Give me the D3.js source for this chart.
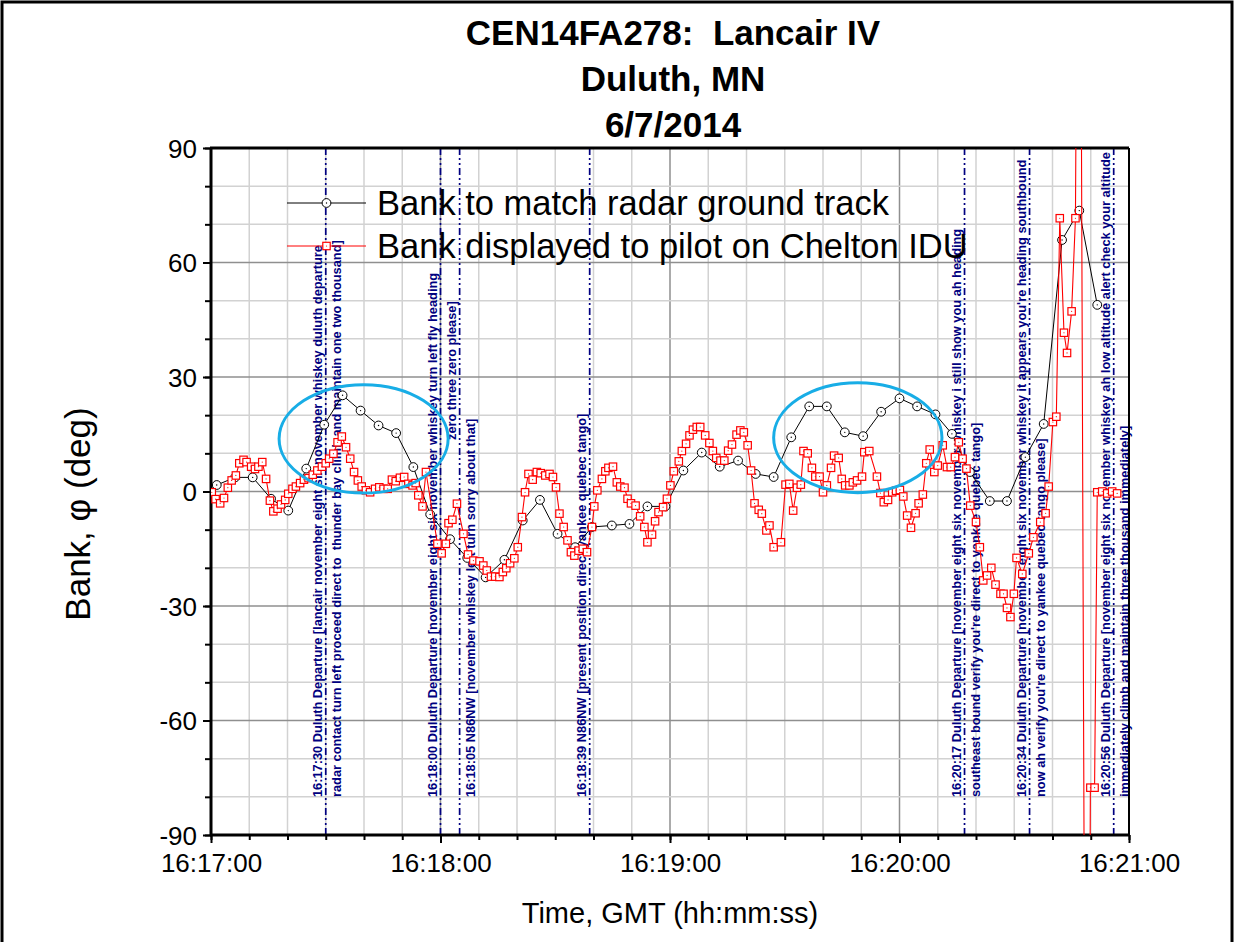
<!DOCTYPE html>
<html>
<head>
<meta charset="utf-8">
<script src="https://cdn.jsdelivr.net/npm/d3@7"></script>
<style>
    body { margin: 0; background: #fff; }
    svg { display: block; font-family: Arial, "Liberation Sans", sans-serif; }
</style>
</head>
<body>
<svg id="chart" width="1235" height="942"></svg>
<script>
const titleLines = ["CEN14FA278:  Lancair IV", "Duluth, MN", "6/7/2014"];
const xLabel = "Time, GMT (hh:mm:ss)";
const yLabel = "Bank, \u03c6 (deg)";
const seriesNames = ["Bank to match radar ground track", "Bank displayed to pilot on Chelton IDU"];

// time ticks, seconds after 16:17:00
const xMajorTicks = [0, 60, 120, 180, 240];
const xTickLabels = ["16:17:00", "16:18:00", "16:19:00", "16:20:00", "16:21:00"];
const yTicks = [-90, -60, -30, 0, 30, 60, 90];

// radar derived bank (black circles)
const radarSec = [1.5, 6.3, 10.9, 15.7, 20.2, 24.9, 29.6, 34.4, 39.1, 43.8,
    48.4, 52.9, 57.3, 62.5, 67, 71.8, 76.7, 81.5, 86, 90.6,
    95.2, 99.6, 104.8, 109.4, 114.1, 118.8, 123.5, 128.3, 133, 137.8,
    142.4, 147.1, 151.7, 156.4, 161, 165.7, 170.5, 175.2, 180, 184.6,
    189.4, 193.7, 198.4, 203.6, 208.1, 212.9, 217.7, 222.5, 227, 231.7];
const radarBank = [1.7, 3.7, 3.7, -1.9, -5, 6, 17.5, 25.2, 21.2, 17.3,
    15.3, 6.4, -6, -12.5, -17.4, -22.5, -17.9, -7.6, -2.2, -11.1,
    -14.6, -9.3, -8.9, -8.5, -3.9, -3.9, 5.5, 10.2, 6.5, 8.1,
    4.6, 3.8, 14.2, 22.3, 22.3, 15.5, 14.5, 20.9, 24.4, 22.3,
    20.2, 15.1, 5.1, -2.5, -2.5, 9, 17.7, 65.9, 73.6, 48.9];

// IDU displayed bank (red squares)
const iduSec = [0.2, 1.2, 2.4, 3.4, 4.4, 5.4, 6.5, 7.4, 8.5, 9.3,
    10.5, 11.5, 12.4, 13.4, 14.4, 15.4, 16.3, 17.4, 18.3, 19.4,
    20.2, 21.3, 22.2, 23.3, 24.3, 25.5, 26.6, 27.8, 29, 30,
    30.9, 32, 33.1, 34.2, 35.3, 36.4, 37.4, 38.4, 39.4, 40.5,
    41.6, 42.9, 44, 45.1, 46.2, 47.3, 48.3, 49.4, 50.5, 51.6,
    52.7, 53.5, 54.2, 55.3, 56.2, 59.2, 60.3, 61.4, 62.1, 63.1,
    64.3, 66, 67.2, 68.6, 70.2, 71.2, 72.1, 73.2, 74.3, 75.4,
    76.3, 77.2, 78.2, 79.3, 80.2, 81.3, 82.1, 83, 84.1, 85.2,
    86.2, 87.4, 88.5, 89.4, 90.2, 91.1, 92.2, 93.2, 94.1, 95,
    96.1, 97.2, 98.3, 99.6, 100.2, 101, 102.2, 103.1, 103.9, 105.1,
    106.1, 107, 108.1, 108.9, 109.8, 111, 112.2, 113.3, 114.1, 115.3,
    116.1, 117, 118.2, 119.2, 120.1, 121, 122.3, 123.1, 124.2, 125.1,
    126, 127, 127.9, 129.2, 130.3, 131.2, 132.1, 133.2, 134.2, 135.2,
    136.2, 137.4, 138.4, 139.3, 140.3, 141.2, 142.1, 143.2, 144, 145.2,
    146, 147.1, 149, 150.2, 151.2, 152.2, 153.2, 154.2, 154.9, 156,
    157.1, 158, 159.1, 160, 161, 162.1, 162.9, 164.1, 164.9, 165.8,
    166.9, 167.8, 168.9, 170.2, 170.8, 172.1, 174.1, 175, 175.9, 177,
    178.1, 179.1, 180.1, 181, 182, 183, 184.2, 185, 186.1, 187,
    187.9, 189.1, 190, 191.3, 192.4, 193.4, 194.5, 195.5, 196.5, 197.5,
    198.5, 200, 201, 201.9, 202.9, 204, 205.1, 206.4, 207.2, 208.1,
    209, 209.9, 210.6, 212.1, 213.8, 215, 216.8, 218.2, 219, 220.1,
    221, 221.9, 223, 223.8, 225, 226, 227, 229, 229.9, 231,
    231.7, 233, 234.3, 235.6, 236.9];
const iduBank = [-0.2, -2, -3.1, -1.7, 1, 2.9, 4.2, 7.4, 8.3, 7.7,
    6.5, 5.9, 6.5, 7.7, 3.3, -2.4, -5.2, -4.5, -3.4, -2.2,
    -0.6, 0.7, 1.3, 2.2, 3.1, 3.5, 4.4, 5.5, 6.5, 7.4,
    8.6, 9.9, 12.9, 14.4, 11.6, 8.6, 5.1, 2.9, 1.3, 0.3,
    -0.2, 0.7, 1.1, 0.7, 0.7, 3.1, 2.7, 3.6, 3.8, 2,
    1.6, 2.2, -1, -3.9, 5.1, -13.7, -16.2, -13.7, -8.3, -7.4,
    -3.2, -11.1, -16.5, -18.1, -18.3, -19.4, -20.7, -22.3, -22.3, -22.4,
    -21.1, -20.1, -18.8, -17.5, -14.6, -6.7, -0.2, 4.6, 3.1, 5.1,
    4.8, 4.2, 4.6, 3.8, 1.1, -5.8, -9.3, -12.8, -15.9, -16.8,
    -15.5, -15, -15.9, -9.3, -3.9, 0.3, 3.3, 5.3, 6.2, 6.5,
    2.4, 1.3, 1, -1.9, -3.1, -3.7, -6.5, -9.3, -13.3, -11.3,
    -7.8, -5.4, -4.1, -1.9, 1.6, 5.3, 7.9, 10.6, 12.5, 14.7,
    16.2, 16.9, 16.9, 14.7, 12.7, 10.6, 8.8, 8.1, 8.1, 10.7,
    12.3, 14.9, 16, 15.5, 12.1, 5.5, -3.1, -4.8, -5.8, -10.2,
    -8.9, -14.6, -13.3, 1.8, 2, -5, 1, 1.8, 10.6, 10,
    6.2, 3.9, 3.9, -0.2, 1.6, 6.2, 9.4, 8.8, 3.3, 1.6,
    1.6, 2.4, 2.9, 3.9, 10.3, 10.6, 3.9, -0.4, -2.8, -2.2,
    -0.2, 0.2, 0.4, -1.3, -6.3, -9.5, -5.7, -3.1, -0.8, 7.4,
    11, 5.1, 6.8, 12.1, 6.4, 6.4, 9, 12.9, 8.6, 6,
    -3.7, -8, -14.6, -23.3, -22, -20, -24.4, -26.8, -26.8, -30.5,
    -32.9, -26.8, -17.4, -21.6, -16.2, -12, -8, -5.7, 1.3, 18.2,
    19.6, 71.6, 41.6, 36.3, 47.2, 71.6, 250, -300, -77.6, -77.6,
    -0.2, 0, -0.5, 0, -0.5];

// ATC transmissions: time (s after 16:17:00) and two text lines
const callSec = [30, 60, 65, 99, 197, 214, 236];
const callText = [
    ["16:17:30 Duluth Departure [lancair november eight six november whiskey duluth departure",
     "radar contact turn left proceed direct to  thunder bay climb and maintain one two thousand]"],
    ["16:18:00 Duluth Departure [november eight six november whiskey turn left fly heading",
     "zero three zero please]"],
    ["",
     "16:18:05 N86NW [november whiskey left turn sorry about that]"],
    ["16:18:39 N86NW [present position direct yankee quebec tango]",
     ""],
    ["16:20:17 Duluth Departure [november eight six november whiskey i still show you ah heading",
     "southeast bound verify you're direct to yankee quebec tango]"],
    ["16:20:34 Duluth Departure [november eight six november whiskey it appears you're heading southbound",
     "now ah verify you're direct to yankee quebec tango please]"],
    ["16:20:56 Duluth Departure [november eight six november whiskey ah low altitude alert check your altitude",
     "immediately climb and maintain three thousand immediately]"]
];

// highlighted regions: centre time, centre bank, half width (s), half height (deg)
const ringSec = [39.9, 169.1];
const ringBank = [13.8, 14.1];
const ringHalfSec = [22.1, 22];
const ringHalfBank = [14.2, 14.4];

const svg = d3.select("#chart");
const plotLeft = 211, plotRight = 1129, plotTop = 148, plotBottom = 835;

let x = d3.scaleLinear().domain([0, 240]).range([plotLeft, plotRight]);
let y = d3.scaleLinear().domain([-90, 90]).range([plotBottom, plotTop]);

// outer frame
svg.append("rect")
    .attr("x", 2).attr("y", 2)
    .attr("width", 1230).attr("height", 960)
    .attr("fill", "none")
    .attr("stroke", "black")
    .attr("stroke-width", 3);

// title
svg.append("g")
    .selectAll("text")
    .data(titleLines)
    .enter().append("text")
    .attr("x", 673)
    .attr("y", (d, i) => 45 + i * 46)
    .attr("text-anchor", "middle")
    .attr("font-size", 35)
    .attr("font-weight", "bold")
    .style("white-space", "pre")
    .text(d => d);

// grid
let grid = svg.append("g").attr("class", "grid");
grid.selectAll("line.vx")
    .data(d3.range(0, 241, 10))
    .enter().append("line")
    .attr("x1", d => x(d)).attr("x2", d => x(d))
    .attr("y1", plotTop).attr("y2", plotBottom)
    .attr("stroke", d => d % 60 === 0 ? "#8f8f8f" : "#d2d2d2")
    .attr("stroke-width", 1.5);
grid.selectAll("line.hy")
    .data(d3.range(-90, 91, 10))
    .enter().append("line")
    .attr("x1", plotLeft).attr("x2", plotRight)
    .attr("y1", d => y(d)).attr("y2", d => y(d))
    .attr("stroke", d => d % 30 === 0 ? "#8f8f8f" : "#d2d2d2")
    .attr("stroke-width", 1.5);

// ATC call lines and text
let calls = svg.append("g").attr("class", "calls");
callSec.forEach((t, i) => {
    let cx = x(t);
    calls.append("line")
        .attr("x1", cx).attr("x2", cx)
        .attr("y1", plotTop).attr("y2", plotBottom)
        .attr("stroke", "#000080")
        .attr("stroke-width", 1.7)
        .attr("stroke-dasharray", "7,3,2,3,2,3");
    callText[i].forEach((txt, j) => {
        if (!txt) return;
        let tx = cx + (j === 0 ? -3.5 : 15);
        let ty = 797 - (i === 1 && j === 1 ? 357 : 0);
        calls.append("text")
            .attr("x", tx).attr("y", ty)
            .attr("transform", `rotate(-90,${tx},${ty})`)
            .attr("fill", "#000080")
            .attr("font-size", 12.8)
            .attr("font-weight", "bold")
            .style("white-space", "pre")
            .text(txt);
    });
});

// axes
let yAxis = d3.axisLeft(y).tickValues(yTicks).tickSize(8).tickPadding(6)
    .tickFormat(d => String(d));
let yMinor = d3.axisLeft(y).tickValues(d3.range(-90, 91, 10)).tickSize(6).tickFormat("");
let xAxis = d3.axisBottom(x).tickValues(xMajorTicks).tickSize(8).tickPadding(11)
    .tickFormat((d, i) => xTickLabels[i]);
let xMinor = d3.axisBottom(x).tickValues(d3.range(0, 241, 10)).tickSize(5).tickFormat("");

function styleAxis(g) {
    g.select(".domain").remove();
    g.selectAll(".tick line").attr("stroke", "black").attr("stroke-width", 2);
    g.selectAll(".tick text")
        .attr("fill", "black")
        .attr("font-size", 26)
        .attr("font-family", "Arial, 'Liberation Sans', sans-serif");
}

svg.append("g").attr("transform", `translate(${plotLeft},0)`).call(yMinor).call(styleAxis);
svg.append("g").attr("class", "yaxis").attr("transform", `translate(${plotLeft},0)`)
    .call(yAxis).call(styleAxis);
svg.select(".yaxis").selectAll(".tick text").attr("dy", "0.36em");
svg.append("g").attr("transform", `translate(0,${plotBottom})`).call(xMinor).call(styleAxis);
svg.append("g").attr("transform", `translate(0,${plotBottom})`).call(xAxis).call(styleAxis);

// plot box
let box = svg.append("g");
box.append("line").attr("x1", plotLeft - 1).attr("x2", plotRight).attr("y1", plotTop).attr("y2", plotTop)
    .attr("stroke", "black").attr("stroke-width", 3);
box.append("line").attr("x1", plotLeft - 1).attr("x2", plotRight + 1).attr("y1", plotBottom).attr("y2", plotBottom)
    .attr("stroke", "black").attr("stroke-width", 3);
box.append("line").attr("x1", plotLeft).attr("x2", plotLeft).attr("y1", plotTop).attr("y2", plotBottom)
    .attr("stroke", "black").attr("stroke-width", 3);
box.append("line").attr("x1", plotRight).attr("x2", plotRight).attr("y1", plotTop).attr("y2", plotBottom)
    .attr("stroke", "black").attr("stroke-width", 2);

// axis titles
svg.append("text")
    .attr("x", 670).attr("y", 923)
    .attr("text-anchor", "middle")
    .attr("font-size", 29)
    .text(xLabel);
svg.append("text")
    .attr("transform", "translate(90,514) rotate(-90)")
    .attr("text-anchor", "middle")
    .attr("font-size", 35)
    .style("white-space", "pre")
    .text(yLabel);

// series
svg.append("clipPath").attr("id", "plotClip")
    .append("rect")
    .attr("x", plotLeft).attr("y", plotTop)
    .attr("width", plotRight - plotLeft).attr("height", plotBottom - plotTop);

let plot = svg.append("g").attr("clip-path", "url(#plotClip)");
let lineGen = d3.line().x(d => x(d[0])).y(d => y(d[1]));

let radar = radarSec.map((t, i) => [t, radarBank[i]]);
let idu = iduSec.map((t, i) => [t, iduBank[i]]);

function drawCircle(g, px, py) {
    g.append("circle").attr("cx", px).attr("cy", py).attr("r", 4.4)
        .attr("fill", "white").attr("stroke", "black").attr("stroke-width", 1);
    g.append("circle").attr("cx", px).attr("cy", py).attr("r", 0.7).attr("fill", "black");
}

function drawSquare(g, px, py) {
    g.append("rect").attr("x", px - 3.7).attr("y", py - 3.7)
        .attr("width", 7.4).attr("height", 7.4)
        .attr("fill", "white").attr("stroke", "red").attr("stroke-width", 1.2);
    g.append("circle").attr("cx", px).attr("cy", py).attr("r", 0.6).attr("fill", "red");
}

plot.append("path")
    .attr("d", lineGen(radar))
    .attr("fill", "none").attr("stroke", "black").attr("stroke-width", 1);
radar.forEach(d => drawCircle(plot, x(d[0]), y(d[1])));

plot.append("path")
    .attr("d", lineGen(idu))
    .attr("fill", "none").attr("stroke", "red").attr("stroke-width", 1.1);
idu.forEach(d => drawSquare(plot, x(d[0]), y(d[1])));

// highlight rings
ringSec.forEach((t, i) => {
    plot.append("ellipse")
        .attr("cx", x(t)).attr("cy", y(ringBank[i]))
        .attr("rx", x(t + ringHalfSec[i]) - x(t))
        .attr("ry", y(ringBank[i]) - y(ringBank[i] + ringHalfBank[i]))
        .attr("fill", "none")
        .attr("stroke", "#18ade6")
        .attr("stroke-width", 3);
});

// legend
let legend = svg.append("g");
[203, 246].forEach((ly, i) => {
    legend.append("line")
        .attr("x1", 287).attr("x2", 366).attr("y1", ly).attr("y2", ly)
        .attr("stroke", i === 0 ? "black" : "red").attr("stroke-width", 1);
    if (i === 0) drawCircle(legend, 326.5, ly);
    else drawSquare(legend, 326.5, ly);
    legend.append("text")
        .attr("x", 377).attr("y", ly + 12)
        .attr("font-size", 34.5)
        .text(seriesNames[i]);
});
</script>
</body>
</html>
